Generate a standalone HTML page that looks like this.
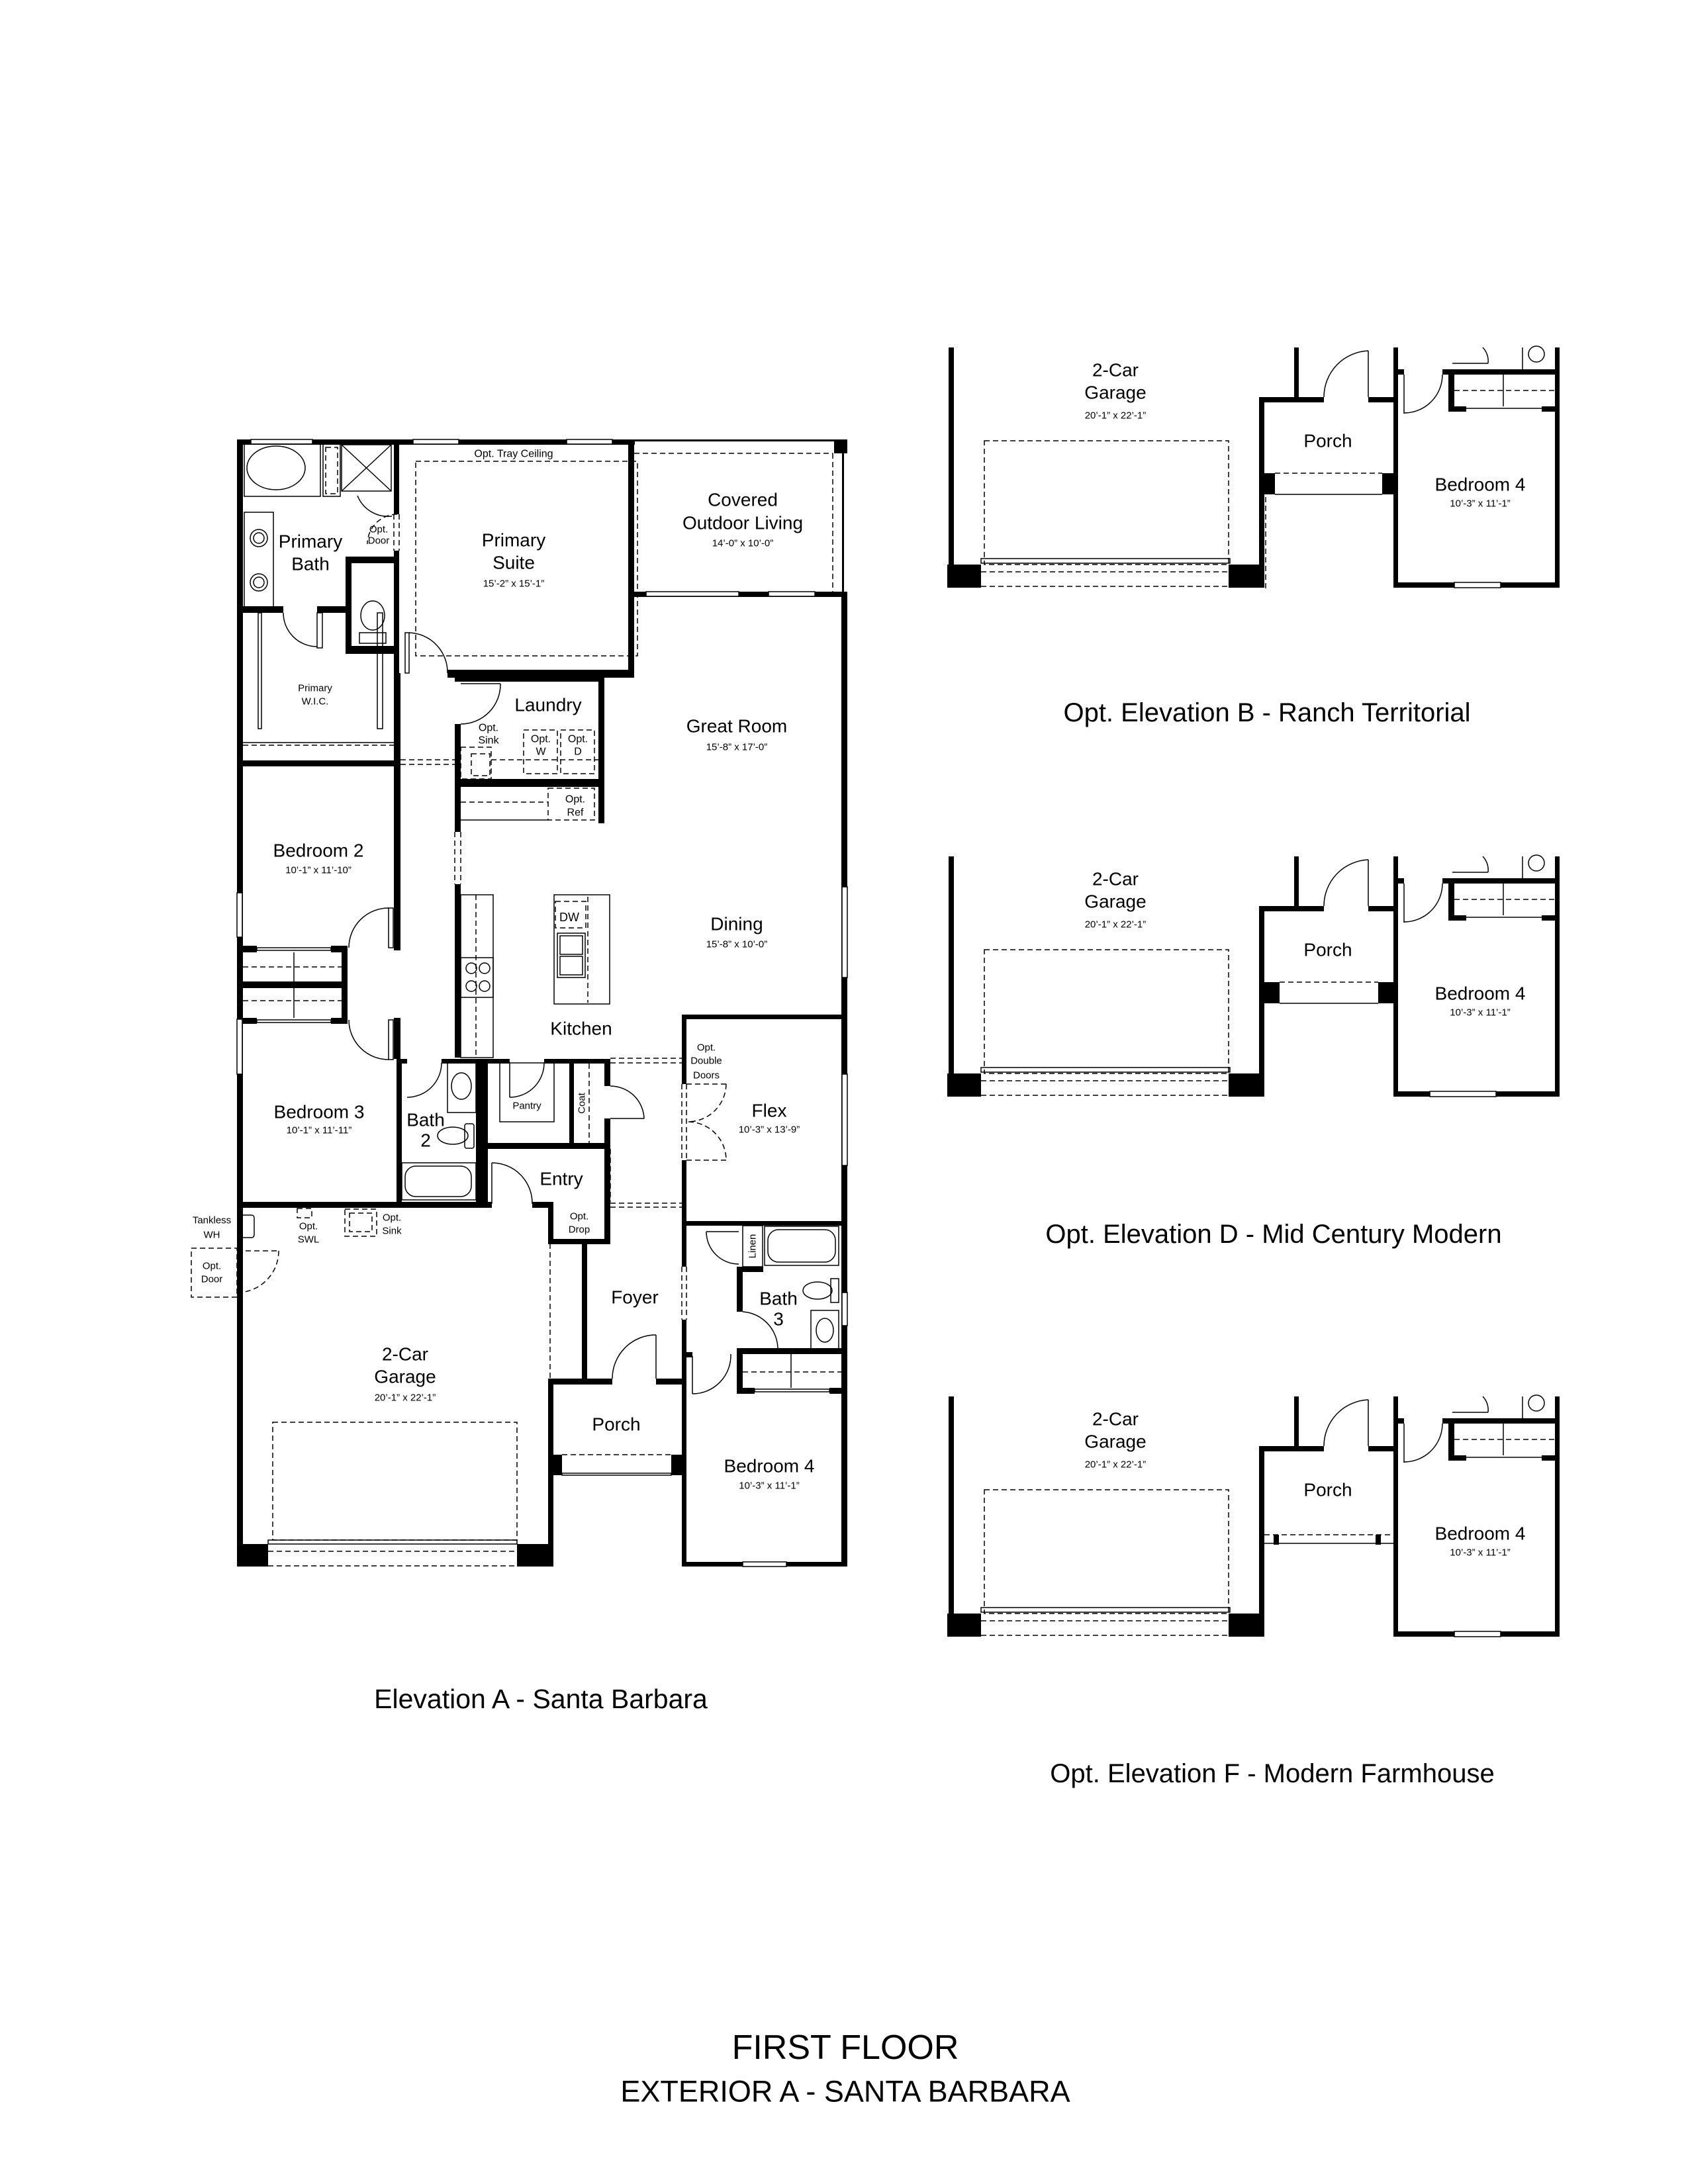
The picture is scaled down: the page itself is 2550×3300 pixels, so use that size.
<!DOCTYPE html>
<html><head><meta charset="utf-8"><style>
html,body{margin:0;padding:0;background:#fff}
svg{display:block}
text{font-family:"Liberation Sans",Arial,sans-serif;fill:#000}
</style></head><body>
<svg width="2550" height="3300" viewBox="0 0 2550 3300" xmlns="http://www.w3.org/2000/svg">
<rect width="2550" height="3300" fill="#fff"/>

<!-- ================= MAIN PLAN ================= -->
<g fill="#000">
<rect x="358" y="664" width="601" height="8"/>
<rect x="358" y="664" width="9" height="1703"/>
<rect x="949" y="664" width="9" height="359"/>
<rect x="676" y="1012" width="282" height="12"/>
<rect x="595" y="664" width="8" height="113"/>
<rect x="595" y="832" width="8" height="190"/>
<rect x="595" y="1017" width="10" height="419"/>
<rect x="958" y="664" width="322" height="3"/>
<rect x="1272" y="664" width="3" height="230"/>
<rect x="1260" y="664" width="20" height="21"/>
<rect x="958" y="894" width="322" height="8"/>
<rect x="1271" y="894" width="9" height="1473"/>
<rect x="687" y="1020" width="226" height="10"/>
<rect x="904" y="1023" width="9" height="221"/>
<rect x="687" y="1094" width="9" height="163"/>
<rect x="687" y="1336" width="9" height="262"/>
<rect x="687" y="1177" width="226" height="12"/>
<rect x="358" y="916" width="70" height="10"/>
<rect x="479" y="916" width="43" height="10"/>
<rect x="522" y="841" width="81" height="10"/>
<rect x="522" y="841" width="9" height="147"/>
<rect x="522" y="976" width="81" height="12"/>
<rect x="358" y="1149" width="247" height="9"/>
<rect x="358" y="1429" width="30" height="10"/>
<rect x="500" y="1429" width="25" height="10"/>
<rect x="516" y="1429" width="9" height="115"/>
<rect x="358" y="1483" width="167" height="10"/>
<rect x="358" y="1538" width="30" height="9"/>
<rect x="500" y="1538" width="25" height="9"/>
<rect x="595" y="1538" width="10" height="62"/>
<rect x="599" y="1600" width="8" height="219"/>
<rect x="599" y="1600" width="16" height="7"/>
<rect x="667" y="1600" width="62" height="7"/>
<rect x="719" y="1600" width="10" height="219"/>
<rect x="729" y="1600" width="41" height="7"/>
<rect x="822" y="1600" width="100" height="7"/>
<rect x="729" y="1600" width="8" height="219"/>
<rect x="860" y="1600" width="7" height="127"/>
<rect x="913" y="1600" width="9" height="41"/>
<rect x="913" y="1690" width="9" height="190"/>
<rect x="729" y="1727" width="193" height="9"/>
<rect x="358" y="1816" width="385" height="9"/>
<rect x="804" y="1816" width="32" height="9"/>
<rect x="828" y="1819" width="8" height="60"/>
<rect x="828" y="1872" width="94" height="8"/>
<rect x="879" y="1879" width="8" height="207"/>
<rect x="828" y="2083" width="8" height="284"/>
<rect x="828" y="2083" width="97" height="9"/>
<rect x="991" y="2083" width="40" height="9"/>
<rect x="836" y="2198" width="13" height="31"/>
<rect x="1014" y="2198" width="16" height="31"/>
<rect x="1030" y="1533" width="250" height="7"/>
<rect x="1030" y="1534" width="7" height="104"/>
<rect x="1030" y="1753" width="7" height="161"/>
<rect x="1030" y="1994" width="7" height="373"/>
<rect x="1030" y="1845" width="250" height="7"/>
<rect x="1113" y="1914" width="9" height="68"/>
<rect x="1113" y="1914" width="40" height="8"/>
<rect x="1113" y="2037" width="167" height="9"/>
<rect x="1113" y="2046" width="9" height="60"/>
<rect x="1113" y="2097" width="27" height="9"/>
<rect x="1253" y="2097" width="27" height="9"/>
<rect x="1037" y="2043" width="9" height="8"/>
<rect x="1030" y="2360" width="250" height="7"/>
<rect x="358" y="2333" width="47" height="34"/>
<rect x="781" y="2333" width="55" height="34"/>
</g>

<g fill="#fff" stroke="#000" stroke-width="1.5">
<rect x="379" y="664" width="93" height="7"/>
<rect x="624" y="664" width="69" height="7"/>
<rect x="856" y="664" width="69" height="7"/>
<rect x="976" y="894" width="140" height="7"/>
<rect x="1161" y="894" width="70" height="7"/>
<rect x="358" y="1349" width="8" height="67"/>
<rect x="358" y="1540" width="8" height="83"/>
<rect x="1272" y="1340" width="8" height="137"/>
<rect x="1272" y="1623" width="8" height="138"/>
<rect x="1272" y="1953" width="8" height="50"/>
<rect x="1122" y="2360" width="66" height="7"/>
<rect x="405" y="2327" width="376" height="6"/>
<rect x="849" y="2226" width="165" height="3"/>
<rect x="388" y="1432" width="112" height="4"/>
<rect x="388" y="1541" width="112" height="4"/>
<rect x="1140" y="2099" width="113" height="4"/>
</g>

<g fill="none" stroke="#000" stroke-width="1.5">
<rect x="369" y="671" width="115" height="79"/>
<ellipse cx="417" cy="707" rx="44" ry="33"/>
<rect x="488" y="671" width="26" height="79"/>
<rect x="516" y="672" width="75" height="70"/>
<line x1="516" y1="672" x2="591" y2="742"/><line x1="591" y1="672" x2="516" y2="742"/>
<path d="M540,749 A50 50 0 0 0 592,780"/>
<rect x="369" y="774" width="44" height="144"/>
<circle cx="391" cy="813" r="13"/><circle cx="391" cy="813" r="8"/>
<circle cx="391" cy="880" r="13"/><circle cx="391" cy="880" r="8"/>
<ellipse cx="563" cy="930" rx="18" ry="22"/>
<rect x="543" y="956" width="40" height="16"/>
<path d="M428,926 A51 51 0 0 0 479,977"/>
<rect x="479" y="926" width="8" height="53"/>
<rect x="390" y="926" width="5" height="175"/>
<rect x="570" y="926" width="8" height="175"/>
<line x1="367" y1="1122" x2="595" y2="1122"/>
<rect x="612" y="956" width="6" height="61"/>
<path d="M618,956 A60 60 0 0 1 676,1017"/>
<line x1="696" y1="1033" x2="756" y2="1033"/>
<path d="M756,1033 A60 60 0 0 1 696,1094"/>
<line x1="696" y1="1239" x2="828" y2="1239"/>
<rect x="587" y="1372" width="7" height="60"/>
<path d="M587,1372 A60 60 0 0 0 527,1432"/>
<rect x="587" y="1541" width="7" height="60"/>
<path d="M527,1541 A60 60 0 0 0 587,1601"/>
<line x1="444" y1="1439" x2="444" y2="1538"/>
<rect x="696" y="1352" width="49" height="246"/>
<rect x="696" y="1447" width="49" height="60"/>
<circle cx="712" cy="1463" r="8"/><circle cx="732" cy="1463" r="8"/>
<circle cx="712" cy="1490" r="8"/><circle cx="732" cy="1490" r="8"/>
<rect x="837" y="1352" width="84" height="165"/>
<rect x="842" y="1410" width="42" height="67"/>
<rect x="846" y="1414" width="34" height="28"/><rect x="846" y="1445" width="34" height="28"/>
<path d="M615,1658 A52 52 0 0 0 667,1606"/>
<rect x="676" y="1606" width="43" height="75"/>
<ellipse cx="697" cy="1641" rx="15" ry="20"/>
<ellipse cx="684" cy="1716" rx="23" ry="13"/>
<rect x="702" y="1698" width="14" height="37" rx="3"/>
<rect x="607" y="1757" width="112" height="56"/>
<rect x="612" y="1762" width="100" height="46" rx="16"/>
<rect x="755" y="1606" width="82" height="89"/>
<path d="M770,1658 A52 52 0 0 0 822,1606"/>
<line x1="770" y1="1606" x2="770" y2="1658"/>
<line x1="973" y1="1690" x2="922" y2="1690"/>
<path d="M922,1641 A51 51 0 0 1 973,1690"/>
<line x1="743" y1="1757" x2="743" y2="1819"/>
<path d="M743,1757 A61 61 0 0 1 804,1819"/>
<line x1="991" y1="2017" x2="991" y2="2083"/>
<path d="M925,2083 A66 66 0 0 1 991,2017"/>
<rect x="1122" y="1852" width="30" height="62"/>
<line x1="1067" y1="1861" x2="1116" y2="1861"/>
<path d="M1067,1861 A49 49 0 0 0 1116,1910"/>
<rect x="1155" y="1853" width="112" height="59"/>
<rect x="1160" y="1858" width="102" height="49" rx="16"/>
<ellipse cx="1235" cy="1950" rx="22" ry="13"/>
<rect x="1255" y="1932" width="12" height="36"/>
<rect x="1225" y="1980" width="42" height="60"/>
<ellipse cx="1246" cy="2010" rx="13" ry="18"/>
<path d="M1122,1982 A57 57 0 0 1 1175,2037"/>
<line x1="1195" y1="2046" x2="1195" y2="2097"/>
<line x1="1046" y1="2049" x2="1046" y2="2106"/>
<path d="M1046,2106 A58 58 0 0 0 1104,2046"/>
<rect x="362" y="1836" width="22" height="34" rx="4"/>
</g>

<g fill="none" stroke="#000" stroke-width="1.5" stroke-dasharray="8 5">
<line x1="595" y1="777" x2="595" y2="832"/><line x1="603" y1="777" x2="603" y2="832"/>
<path d="M600,777 A45 45 0 0 0 555,822"/>
<rect x="492" y="676" width="18" height="70"/>
<rect x="628" y="697" width="335" height="294"/>
<line x1="958" y1="685" x2="1258" y2="685"/>
<line x1="1258" y1="685" x2="1258" y2="894"/>
<line x1="367" y1="1126" x2="595" y2="1126"/>
<line x1="605" y1="1148" x2="692" y2="1148"/>
<line x1="605" y1="1155" x2="692" y2="1155"/>
<rect x="696" y="1129" width="46" height="48"/>
<rect x="712" y="1139" width="28" height="33"/>
<rect x="791" y="1103" width="51" height="66"/>
<rect x="847" y="1103" width="51" height="66"/>
<line x1="742" y1="1148" x2="904" y2="1148"/>
<rect x="828" y="1191" width="70" height="48"/>
<line x1="696" y1="1212" x2="828" y2="1212"/>
<line x1="687" y1="1257" x2="687" y2="1336"/><line x1="696" y1="1257" x2="696" y2="1336"/>
<line x1="719" y1="1352" x2="719" y2="1598"/>
<rect x="839" y="1362" width="46" height="40"/>
<line x1="888" y1="1355" x2="888" y2="1515"/>
<line x1="367" y1="1461" x2="516" y2="1461"/>
<line x1="367" y1="1512" x2="516" y2="1512"/>
<line x1="890" y1="1607" x2="890" y2="1727"/>
<line x1="922" y1="1599" x2="1030" y2="1599"/><line x1="922" y1="1606" x2="1030" y2="1606"/>
<line x1="922" y1="1818" x2="1030" y2="1818"/><line x1="922" y1="1824" x2="1030" y2="1824"/>
<line x1="916" y1="1736" x2="916" y2="1816"/><line x1="922" y1="1736" x2="922" y2="1816"/>
<line x1="1030" y1="1638" x2="1030" y2="1753"/><line x1="1037" y1="1638" x2="1037" y2="1753"/>
<line x1="1037" y1="1638" x2="1097" y2="1638"/><line x1="1037" y1="1753" x2="1097" y2="1753"/>
<path d="M1097,1638 A58 58 0 0 1 1040,1695"/>
<path d="M1040,1695 A58 58 0 0 1 1097,1753"/>
<line x1="1030" y1="1914" x2="1030" y2="1994"/><line x1="1037" y1="1914" x2="1037" y2="1994"/>
<line x1="1122" y1="2073" x2="1271" y2="2073"/>
<line x1="831" y1="1879" x2="831" y2="2083"/>
<line x1="849" y1="2198" x2="1014" y2="2198"/>
<rect x="412" y="2149" width="369" height="178"/>
<line x1="405" y1="2344" x2="781" y2="2344"/>
<line x1="405" y1="2366" x2="781" y2="2366"/>
<rect x="449" y="1826" width="22" height="14"/>
<rect x="521" y="1827" width="48" height="41"/>
<rect x="528" y="1833" width="34" height="28"/>
<rect x="289" y="1886" width="69" height="74"/>
<line x1="358" y1="1890" x2="421" y2="1890"/>
<path d="M421,1890 A63 63 0 0 1 358,1953"/>
</g>

<g text-anchor="middle" dominant-baseline="central">
<text x="469" y="818" font-size="28">Primary</text>
<text x="469" y="852" font-size="28">Bath</text>
<text x="572" y="800" font-size="15">Opt.</text>
<text x="572" y="817" font-size="15">Door</text>
<text x="776" y="686" font-size="16">Opt. Tray Ceiling</text>
<text x="776" y="816" font-size="28">Primary</text>
<text x="776" y="850" font-size="28">Suite</text>
<text x="776" y="882" font-size="15">15’-2” x 15’-1”</text>
<text x="1122" y="755" font-size="28">Covered</text>
<text x="1122" y="790" font-size="28">Outdoor Living</text>
<text x="1122" y="821" font-size="15">14’-0” x 10’-0”</text>
<text x="476" y="1040" font-size="15">Primary</text>
<text x="476" y="1060" font-size="15">W.I.C.</text>
<text x="828" y="1065" font-size="28">Laundry</text>
<text x="738" y="1100" font-size="16">Opt.</text>
<text x="738" y="1119" font-size="16">Sink</text>
<text x="817" y="1117" font-size="16">Opt.</text>
<text x="817" y="1136" font-size="16">W</text>
<text x="873" y="1117" font-size="16">Opt.</text>
<text x="873" y="1136" font-size="16">D</text>
<text x="869" y="1208" font-size="16">Opt.</text>
<text x="869" y="1228" font-size="16">Ref</text>
<text x="1113" y="1097" font-size="28">Great Room</text>
<text x="1113" y="1129" font-size="15">15’-8” x 17’-0”</text>
<text x="481" y="1285" font-size="28">Bedroom 2</text>
<text x="481" y="1315" font-size="15">10’-1” x 11’-10”</text>
<text x="860" y="1386" font-size="18">DW</text>
<text x="1113" y="1396" font-size="28">Dining</text>
<text x="1113" y="1427" font-size="15">15’-8” x 10’-0”</text>
<text x="878" y="1554" font-size="28">Kitchen</text>
<text x="1067" y="1583" font-size="15">Opt.</text>
<text x="1067" y="1603" font-size="15">Double</text>
<text x="1067" y="1625" font-size="15">Doors</text>
<text x="482" y="1680" font-size="28">Bedroom 3</text>
<text x="482" y="1708" font-size="15">10’-1” x 11’-11”</text>
<text x="643" y="1692" font-size="28">Bath</text>
<text x="643" y="1723" font-size="28">2</text>
<text x="796" y="1671" font-size="15">Pantry</text>
<text x="879" y="1667" font-size="15" transform="rotate(-90 879 1667)">Coat</text>
<text x="1162" y="1678" font-size="28">Flex</text>
<text x="1162" y="1707" font-size="15">10’-3” x 13’-9”</text>
<text x="848" y="1781" font-size="28">Entry</text>
<text x="875" y="1838" font-size="15">Opt.</text>
<text x="875" y="1858" font-size="15">Drop</text>
<text x="320" y="1844" font-size="15">Tankless</text>
<text x="320" y="1866" font-size="15">WH</text>
<text x="466" y="1853" font-size="15">Opt.</text>
<text x="466" y="1873" font-size="15">SWL</text>
<text x="592" y="1840" font-size="15">Opt.</text>
<text x="592" y="1860" font-size="15">Sink</text>
<text x="320" y="1913" font-size="15">Opt.</text>
<text x="320" y="1933" font-size="15">Door</text>
<text x="1137" y="1883" font-size="15" transform="rotate(-90 1137 1883)">Linen</text>
<text x="959" y="1960" font-size="28">Foyer</text>
<text x="1176" y="1962" font-size="28">Bath</text>
<text x="1176" y="1993" font-size="28">3</text>
<text x="612" y="2046" font-size="28">2-Car</text>
<text x="612" y="2080" font-size="28">Garage</text>
<text x="612" y="2112" font-size="15">20’-1” x 22’-1”</text>
<text x="931" y="2152" font-size="28">Porch</text>
<text x="1162" y="2215" font-size="28">Bedroom 4</text>
<text x="1162" y="2245" font-size="15">10’-3” x 11’-1”</text>
</g>

<!-- ============ ELEVATIONS ============ -->
<g>
<g fill="#000">
<rect x="1433" y="525" width="8" height="330"/>
<rect x="1431" y="853" width="51" height="35"/>
<rect x="1856" y="853" width="53" height="35"/>
<rect x="1902" y="600" width="8" height="288"/>
<rect x="1902" y="600" width="98" height="8"/>
<rect x="2067" y="600" width="45" height="8"/>
<rect x="1955" y="525" width="7" height="75"/>
<rect x="2105" y="525" width="7" height="363"/>
<rect x="1909" y="715" width="17" height="32"/>
<rect x="2088" y="715" width="17" height="32"/>
<rect x="2105" y="880" width="251" height="8"/>
<rect x="2349" y="525" width="7" height="363"/>
<rect x="2179" y="558" width="177" height="8"/>
<rect x="2112" y="558" width="9" height="8"/>
<rect x="2188" y="558" width="9" height="64"/>
<rect x="2188" y="614" width="27" height="8"/>
<rect x="2329" y="614" width="27" height="8"/>
</g>
<g fill="none" stroke="#000" stroke-width="1.5">
<rect x="1482" y="844" width="376" height="7" fill="#fff"/>
<rect x="2197" y="880" width="70" height="8" fill="#fff"/>
<line x1="1926" y1="747" x2="2088" y2="747"/>
<line x1="2067" y1="530" x2="2067" y2="600"/>
<path d="M2000,600 A70 70 0 0 1 2067,530"/>
<line x1="2215" y1="617" x2="2329" y2="617"/>
<line x1="2271" y1="566" x2="2271" y2="614"/>
<line x1="2121" y1="566" x2="2121" y2="625"/>
<path d="M2121,624 A58 58 0 0 0 2179,566"/>
<line x1="2300" y1="525" x2="2300" y2="558"/>
<ellipse cx="2321" cy="535" rx="12" ry="12"/>
<line x1="2194" y1="549" x2="2248" y2="549"/>
<path d="M2248,549 A30 30 0 0 0 2240,525"/>
</g>
<g fill="none" stroke="#000" stroke-width="1.5" stroke-dasharray="8 5">
<rect x="1487" y="666" width="369" height="187"/>
<line x1="1482" y1="864" x2="1858" y2="864"/>
<line x1="1482" y1="886" x2="1858" y2="886"/>
<line x1="1926" y1="715" x2="2088" y2="715"/>
<line x1="1912" y1="751" x2="1912" y2="892"/>
<line x1="2197" y1="590" x2="2349" y2="590"/>
</g>
<g text-anchor="middle" dominant-baseline="central">
<text x="1685" y="559" font-size="28">2-Car</text>
<text x="1685" y="593" font-size="28">Garage</text>
<text x="1685" y="628" font-size="15">20’-1” x 22’-1”</text>
<text x="2006" y="666" font-size="28">Porch</text>
<text x="2236" y="732" font-size="28">Bedroom 4</text>
<text x="2236" y="761" font-size="15">10’-3” x 11’-1”</text>
</g>
</g>

<g transform="translate(0,769)">
<g fill="#000">
<rect x="1433" y="525" width="8" height="330"/>
<rect x="1431" y="853" width="51" height="35"/>
<rect x="1856" y="853" width="53" height="35"/>
<rect x="1902" y="600" width="8" height="288"/>
<rect x="1902" y="600" width="98" height="8"/>
<rect x="2067" y="600" width="45" height="8"/>
<rect x="1955" y="525" width="7" height="75"/>
<rect x="2105" y="525" width="7" height="363"/>
<rect x="1909" y="715" width="24" height="32"/>
<rect x="2082" y="715" width="23" height="32"/>
<rect x="2105" y="880" width="251" height="8"/>
<rect x="2349" y="525" width="7" height="363"/>
<rect x="2179" y="558" width="177" height="8"/>
<rect x="2112" y="558" width="9" height="8"/>
<rect x="2188" y="558" width="9" height="64"/>
<rect x="2188" y="614" width="27" height="8"/>
<rect x="2329" y="614" width="27" height="8"/>
</g>
<g fill="none" stroke="#000" stroke-width="1.5">
<rect x="1482" y="844" width="376" height="7" fill="#fff"/>
<rect x="2160" y="880" width="100" height="8" fill="#fff"/>
<line x1="1933" y1="747" x2="2082" y2="747"/>
<line x1="2067" y1="530" x2="2067" y2="600"/>
<path d="M2000,600 A70 70 0 0 1 2067,530"/>
<line x1="2215" y1="617" x2="2329" y2="617"/>
<line x1="2271" y1="566" x2="2271" y2="614"/>
<line x1="2121" y1="566" x2="2121" y2="625"/>
<path d="M2121,624 A58 58 0 0 0 2179,566"/>
<line x1="2300" y1="525" x2="2300" y2="558"/>
<ellipse cx="2321" cy="535" rx="12" ry="12"/>
<line x1="2194" y1="549" x2="2248" y2="549"/>
<path d="M2248,549 A30 30 0 0 0 2240,525"/>
</g>
<g fill="none" stroke="#000" stroke-width="1.5" stroke-dasharray="8 5">
<rect x="1487" y="666" width="369" height="187"/>
<line x1="1482" y1="864" x2="1858" y2="864"/>
<line x1="1482" y1="886" x2="1858" y2="886"/>
<line x1="1933" y1="715" x2="2082" y2="715"/>
<line x1="2197" y1="590" x2="2349" y2="590"/>
</g>
<g text-anchor="middle" dominant-baseline="central">
<text x="1685" y="559" font-size="28">2-Car</text>
<text x="1685" y="593" font-size="28">Garage</text>
<text x="1685" y="628" font-size="15">20’-1” x 22’-1”</text>
<text x="2006" y="666" font-size="28">Porch</text>
<text x="2236" y="732" font-size="28">Bedroom 4</text>
<text x="2236" y="761" font-size="15">10’-3” x 11’-1”</text>
</g>
</g>

<g transform="translate(0,1585)">
<g fill="#000">
<rect x="1433" y="525" width="8" height="330"/>
<rect x="1431" y="853" width="51" height="35"/>
<rect x="1856" y="853" width="53" height="35"/>
<rect x="1902" y="600" width="8" height="288"/>
<rect x="1902" y="600" width="98" height="8"/>
<rect x="2067" y="600" width="45" height="8"/>
<rect x="1955" y="525" width="7" height="75"/>
<rect x="2105" y="525" width="7" height="363"/>
<rect x="1924" y="734" width="8" height="15"/>
<rect x="2078" y="734" width="8" height="15"/>
<rect x="2105" y="880" width="251" height="8"/>
<rect x="2349" y="525" width="7" height="363"/>
<rect x="2179" y="558" width="177" height="8"/>
<rect x="2112" y="558" width="9" height="8"/>
<rect x="2188" y="558" width="9" height="64"/>
<rect x="2188" y="614" width="27" height="8"/>
<rect x="2329" y="614" width="27" height="8"/>
</g>
<g fill="none" stroke="#000" stroke-width="1.5">
<rect x="1482" y="844" width="376" height="7" fill="#fff"/>
<rect x="2197" y="880" width="70" height="8" fill="#fff"/>
<line x1="1910" y1="747" x2="2105" y2="747"/>
<line x1="2067" y1="530" x2="2067" y2="600"/>
<path d="M2000,600 A70 70 0 0 1 2067,530"/>
<line x1="2215" y1="617" x2="2329" y2="617"/>
<line x1="2271" y1="566" x2="2271" y2="614"/>
<line x1="2121" y1="566" x2="2121" y2="625"/>
<path d="M2121,624 A58 58 0 0 0 2179,566"/>
<line x1="2300" y1="525" x2="2300" y2="558"/>
<ellipse cx="2321" cy="535" rx="12" ry="12"/>
<line x1="2194" y1="549" x2="2248" y2="549"/>
<path d="M2248,549 A30 30 0 0 0 2240,525"/>
</g>
<g fill="none" stroke="#000" stroke-width="1.5" stroke-dasharray="8 5">
<rect x="1487" y="666" width="369" height="187"/>
<line x1="1482" y1="864" x2="1858" y2="864"/>
<line x1="1482" y1="886" x2="1858" y2="886"/>
<line x1="1910" y1="734" x2="2105" y2="734"/>
<line x1="2197" y1="590" x2="2349" y2="590"/>
</g>
<g text-anchor="middle" dominant-baseline="central">
<text x="1685" y="559" font-size="28">2-Car</text>
<text x="1685" y="593" font-size="28">Garage</text>
<text x="1685" y="628" font-size="15">20’-1” x 22’-1”</text>
<text x="2006" y="666" font-size="28">Porch</text>
<text x="2236" y="732" font-size="28">Bedroom 4</text>
<text x="2236" y="761" font-size="15">10’-3” x 11’-1”</text>
</g>
</g>

<g text-anchor="middle" dominant-baseline="central">
<text x="1914" y="1077" font-size="40">Opt. Elevation B - Ranch Territorial</text>
<text x="1924" y="1865" font-size="40">Opt. Elevation D - Mid Century Modern</text>
<text x="1922" y="2680" font-size="40">Opt. Elevation F - Modern Farmhouse</text>
<text x="817" y="2567" font-size="41">Elevation A - Santa Barbara</text>
<text x="1277" y="3094" font-size="52">FIRST FLOOR</text>
<text x="1277" y="3160" font-size="45">EXTERIOR A - SANTA BARBARA</text>
</g>
</svg>
</body></html>
